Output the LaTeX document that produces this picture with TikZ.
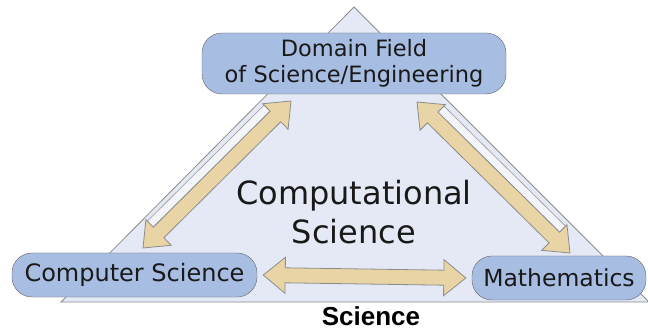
\documentclass[tikz,border=0pt]{standalone}
\usepackage{fontspec}
\setmainfont{DejaVu Sans}
\newfontfamily\arialfont{Liberation Sans}
\usepackage{xcolor}
\usetikzlibrary{calc}

\definecolor{boxblue}{RGB}{168,189,226}
\definecolor{trifill}{RGB}{228,233,245}
\definecolor{arrowtan}{RGB}{232,212,164}
\definecolor{stripfill}{RGB}{243,245,251}

\newcommand{\blockarrow}[2]{%
  \draw[arrowbox] (#1) -- ($(#1)!22pt!(#2)!18pt!90:(#2)$) -- ($(#1)!22pt!(#2)!7.5pt!90:(#2)$)
    -- ($(#2)!22pt!(#1)!7.5pt!-90:(#1)$) -- ($(#2)!22pt!(#1)!18pt!-90:(#1)$) -- (#2)
    -- ($(#2)!22pt!(#1)!18pt!90:(#1)$) -- ($(#2)!22pt!(#1)!7.5pt!90:(#1)$)
    -- ($(#1)!22pt!(#2)!7.5pt!-90:(#2)$) -- ($(#1)!22pt!(#2)!18pt!-90:(#2)$) -- cycle;}
\newcommand{\sidestrip}[2]{%
  \draw[strip] ($(#1)!22pt!(#2)!7.5pt!90:(#2)$) -- ($(#2)!22pt!(#1)!7.5pt!-90:(#1)$)
    -- ($(#2)!22pt!(#1)!16pt!-90:(#1)$) -- ($(#1)!22pt!(#2)!16pt!90:(#2)$) -- cycle;}

\begin{document}
\begin{tikzpicture}[x=1pt,y=-1pt,
    box/.style={draw=black!60, fill=boxblue, rounded corners=20pt, align=center, text=black!90, inner sep=0pt},
    arrowbox/.style={draw=black!45, fill=arrowtan, line width=0.8pt, line join=miter},
    strip/.style={draw=black!40, fill=stripfill, line width=0.6pt}]
    \useasboundingbox (0,0) rectangle (648,331);
    \fill[white] (0,0) rectangle (648,331);

    \draw[black!45, fill=trifill, line width=0.8pt] (354,7) -- (61,302) -- (649,302) -- cycle;

    \node[box, minimum width=304pt, minimum height=61pt, font=\fontsize{22.5}{26}\selectfont] (domain) at (354,63.5) {Domain Field\\of Science/Engineering};
    \node[box, minimum width=245pt, minimum height=44pt, font=\fontsize{24}{28}\selectfont] (cs) at (134.5,275) {Computer Science};
    \node[box, minimum width=174pt, minimum height=44pt, font=\fontsize{23.5}{27}\selectfont] (math) at (559,278) {Mathematics};

    \node[align=center, text=black!90, font=\fontsize{32}{39}\selectfont] (comp) at (354,212) {Computational\\Science};
    \node[font=\arialfont\bfseries\fontsize{26}{30}\selectfont] (sci) at (371,316) {Science};

    \coordinate (csTip) at (143,248);
    \coordinate (domLeft) at (291,101);
    \coordinate (domRight) at (417,102);
    \coordinate (mathTip) at (570,253);
    \coordinate (csRight) at ([xshift=6pt]cs.east);
    \coordinate (mathLeft) at ([xshift=-6pt]math.west);

    \sidestrip{csTip}{domLeft}
    \sidestrip{domRight}{mathTip}
    \blockarrow{csTip}{domLeft}
    \blockarrow{domRight}{mathTip}
    \blockarrow{csRight}{mathLeft}
\end{tikzpicture}
\end{document}
